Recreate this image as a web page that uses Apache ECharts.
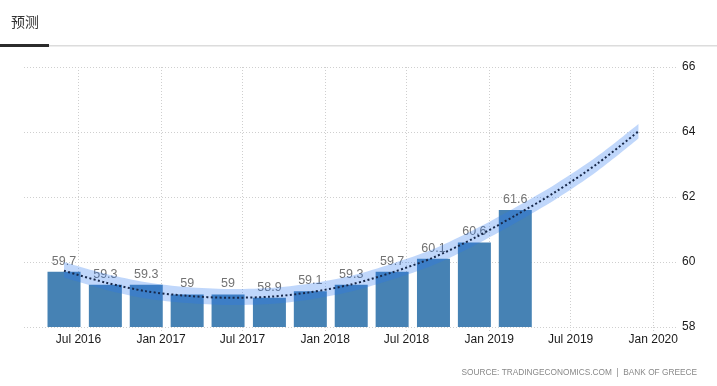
<!DOCTYPE html>
<html>
<head>
<meta charset="utf-8">
<script src="https://cdn.jsdelivr.net/npm/echarts@6/dist/echarts.min.js"></script>
<style>
html,body{margin:0;padding:0;background:#fff;}
#chart{width:717px;height:386px;}
</style>
</head>
<body>
<div id="chart"></div>
<script>
// ---- data ----
const barDates = ['2016-05-30','2016-08-30','2016-11-29','2017-02-28','2017-05-30','2017-08-30',
                  '2017-11-29','2018-02-28','2018-05-30','2018-08-30','2018-11-29','2019-02-28'];
const barValues = [59.7, 59.3, 59.3, 59, 59, 58.9, 59.1, 59.3, 59.7, 60.1, 60.6, 61.6];

const trendDates = ['2016-05-30','2016-08-30','2016-11-29','2017-02-28','2017-05-30','2017-08-30',
                    '2017-11-29','2018-02-28','2018-05-30','2018-08-30','2018-11-29','2019-02-28',
                    '2019-05-30','2019-08-30','2019-11-29'];
const trendValues = [59.73, 59.37, 59.10, 58.96, 58.90, 58.93, 59.07, 59.31, 59.68, 60.14, 60.74, 61.43, 62.17, 63.03, 64.02];
const bandUpper   = [60.00, 59.64, 59.38, 59.23, 59.17, 59.20, 59.34, 59.58, 59.95, 60.40, 61.00, 61.68, 62.41, 63.26, 64.25];
const bandLower   = [59.52, 59.15, 58.88, 58.74, 58.68, 58.71, 58.85, 59.09, 59.46, 59.91, 60.51, 61.20, 61.94, 62.80, 63.80];

const yTicks = [58, 60, 62, 64, 66];
const monthNames = ['Jan','Feb','Mar','Apr','May','Jun','Jul','Aug','Sep','Oct','Nov','Dec'];
const titleText = '预测';
const sourceText = 'SOURCE: TRADINGECONOMICS.COM  |  BANK OF GREECE';

// ---- chart ----
const chart = echarts.init(document.getElementById('chart'), null, {renderer:'canvas'});
const DAY = 86400000;
const gridColor = '#cfcfcf';
const BAR_W = 33;
const yMin = yTicks[0];

const option = {
  animation: false,
  backgroundColor: '#fff',
  textStyle: {fontFamily: 'Liberation Sans'},
  grid: {left: 24, right: 39, top: 67, bottom: 59, containLabel: false},
  xAxis: {
    type: 'time',
    min: '2016-03-02',
    max: '2020-02-25',
    splitNumber: 8,
    minInterval: 180 * DAY,
    maxInterval: 186 * DAY,
    axisLine: {show: false},
    axisTick: {show: true, length: 4, lineStyle: {color: gridColor, type: [1, 2]}},
    splitLine: {show: true, showMinLine: false, showMaxLine: false, lineStyle: {color: gridColor, type: [1, 2]}},
    axisLabel: {
      showMinLabel: false, showMaxLabel: false,
      color: '#1a1a1a', fontSize: 12, margin: 7, fontFamily: 'Liberation Sans',
      formatter: function (val) {
        const d = new Date(val);
        return monthNames[d.getMonth()] + ' ' + d.getFullYear();
      }
    }
  },
  yAxis: {
    type: 'value',
    position: 'right',
    min: yTicks[0],
    max: yTicks[yTicks.length - 1],
    interval: 2,
    axisLine: {show: false},
    axisTick: {show: false},
    splitLine: {show: true, lineStyle: {color: gridColor, type: [1, 2]}},
    axisLabel: {color: '#1a1a1a', fontSize: 12, margin: 4, fontFamily: 'Liberation Sans'}
  },
  series: [
    {
      name: 'bars',
      type: 'custom',
      data: barDates.map((d, i) => [d, barValues[i]]),
      encode: {x: 0, y: 1},
      renderItem: function (params, api) {
        const x = api.value(0), v = api.value(1);
        const top = api.coord([x, v]);
        const bottom = api.coord([x, yMin]);
        return {
          type: 'rect',
          shape: {x: top[0] - BAR_W / 2, y: top[1], width: BAR_W, height: bottom[1] - top[1]},
          style: {fill: '#4682b4'},
          textContent: {
            style: {text: String(v), fill: '#737373', font: '12.5px "Liberation Sans"'}
          },
          textConfig: {position: 'top', distance: 4}
        };
      },
      z: 2
    },
    {
      name: 'bandLow',
      type: 'line',
      stack: 'band',
      data: trendDates.map((d, i) => [d, bandLower[i]]),
      showSymbol: false, symbol: 'none',
      lineStyle: {opacity: 0},
      smooth: 0.3,
      z: 3,
      silent: true
    },
    {
      name: 'bandWidth',
      type: 'line',
      stack: 'band',
      data: trendDates.map((d, i) => [d, +(bandUpper[i] - bandLower[i]).toFixed(3)]),
      showSymbol: false, symbol: 'none',
      lineStyle: {opacity: 0},
      areaStyle: {color: 'rgba(40,120,240,0.42)'},
      smooth: 0.3,
      z: 3,
      silent: true
    },
    {
      name: 'trend',
      type: 'line',
      data: trendDates.map((d, i) => [d, trendValues[i]]),
      showSymbol: false, symbol: 'none',
      smooth: 0.3,
      lineStyle: {color: '#17284a', width: 2, type: [2, 2.4]},
      z: 4,
      silent: true
    }
  ],
  graphic: [
    {type: 'text', left: 11, top: 15, style: {text: titleText, fill: '#333', font: '14px "Noto Sans CJK SC"'}},
    {type: 'rect', shape: {x: 0, y: 44, width: 49, height: 3}, style: {fill: '#2b2b2b'}},
    {type: 'rect', shape: {x: 49, y: 45, width: 668, height: 1.5}, style: {fill: '#dcdcdc'}},
    {type: 'text', right: 20, top: 369, style: {text: sourceText, fill: '#888', font: '8.3px "Liberation Sans"'}}
  ]
};
chart.setOption(option);
</script>
</body>
</html>
